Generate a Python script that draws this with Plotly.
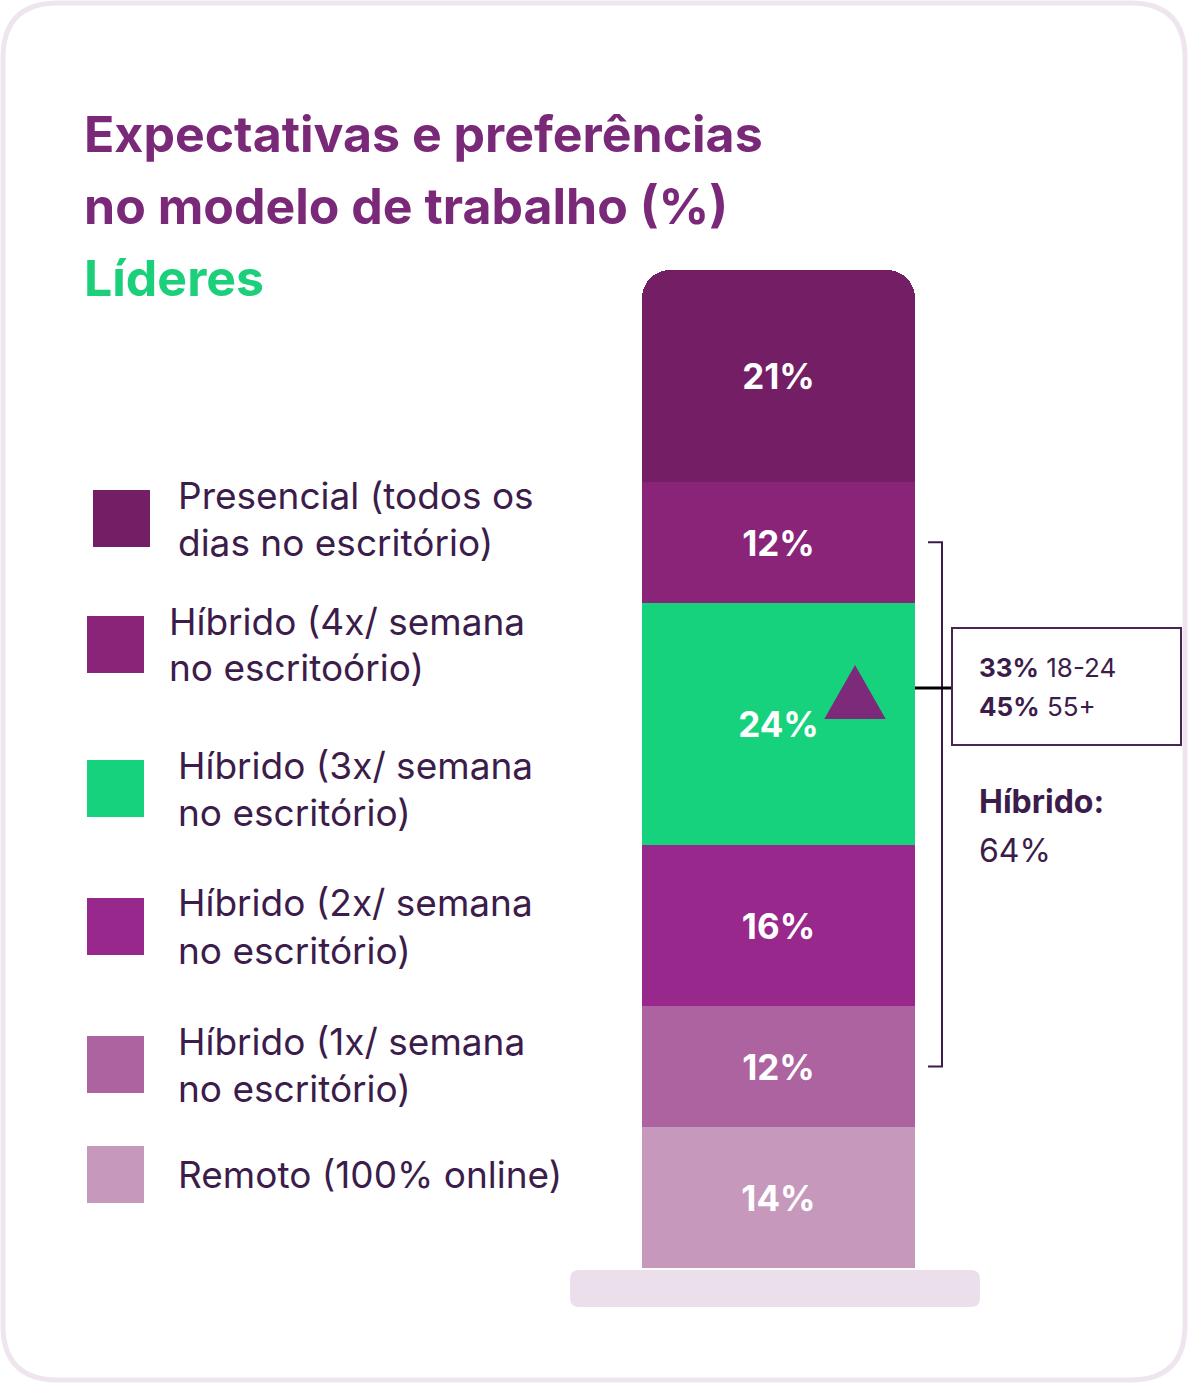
import plotly.graph_objects as go

W, H = 1188, 1383

# dados (de baixo para cima na pilha)
categorias = ['Remoto', 'Híbrido 1x', 'Híbrido 2x', 'Híbrido 3x', 'Híbrido 4x', 'Presencial']
valores = [14, 12, 16, 24, 12, 21]
cores = ['#C699BC', '#AC639F', '#98288B', '#17D27D', '#8A2478', '#741E66']

# legenda (de cima para baixo)
legenda_linhas = [
    ['Presencial (todos os', 'dias no escritório)'],
    ['Híbrido (4x/ semana', 'no escritoório)'],
    ['Híbrido (3x/ semana', 'no escritório)'],
    ['Híbrido (2x/ semana', 'no escritório)'],
    ['Híbrido (1x/ semana', 'no escritório)'],
    ['Remoto (100% online)'],
]

faixa_pct = ['33%', '45%']
faixa_idade = ['18-24', '55+']
hibrido_total = '64%'

titulo = ['Expectativas e preferências', 'no modelo de trabalho (%)']
subtitulo = 'Líderes'

FONTE = 'Inter, Lato, sans-serif'
TXT = '#3B1C4A'


def px(x):
    return x / W


def py(y):
    return 1 - y / H


def rounded_path(x0, y0, x1, y1, r):
    # retangulo arredondado em coordenadas de pixel -> papel
    pts = [
        f'M {px(x0 + r)},{py(y0)}',
        f'L {px(x1 - r)},{py(y0)}',
        f'Q {px(x1)},{py(y0)} {px(x1)},{py(y0 + r)}',
        f'L {px(x1)},{py(y1 - r)}',
        f'Q {px(x1)},{py(y1)} {px(x1 - r)},{py(y1)}',
        f'L {px(x0 + r)},{py(y1)}',
        f'Q {px(x0)},{py(y1)} {px(x0)},{py(y1 - r)}',
        f'L {px(x0)},{py(y0 + r)}',
        f'Q {px(x0)},{py(y0)} {px(x0 + r)},{py(y0)}',
        'Z',
    ]
    return ' '.join(pts)


fig = go.Figure()

for cat, v, c in zip(categorias, valores, cores):
    fig.add_trace(go.Bar(
        x=[0], y=[v], name=cat,
        marker=dict(color=c, line=dict(width=0)),
        text=[f'{v}%'], textposition='inside', insidetextanchor='middle',
        textangle=0,
        textfont=dict(color='white', size=35, family=FONTE, weight='bold'),
        hoverinfo='skip', showlegend=False,
    ))

total = sum(valores)
base = [sum(valores[:i]) for i in range(len(valores))]
meio_1x = base[1] + valores[1] / 2
meio_4x = base[4] + valores[4] / 2

shapes = []
# cartao
shapes.append(dict(type='path', xref='paper', yref='paper', layer='below',
                   path=rounded_path(3, 3, W - 3, H - 3, 55),
                   line=dict(color='#EEE5EF', width=5), fillcolor='white'))
# base do grafico
shapes.append(dict(type='path', xref='paper', yref='paper', layer='below',
                   path=rounded_path(570, 1270, 980, 1307, 9),
                   line=dict(width=0), fillcolor='#EBDFEC'))

# quadrados da legenda
quadrados = [(93, 490), (87, 616), (87, 760), (87, 898), (87, 1036), (87, 1146)]
for (qx, qy), c in zip(quadrados, cores[::-1]):
    shapes.append(dict(type='rect', xref='paper', yref='paper',
                       x0=px(qx), x1=px(qx + 57), y0=py(qy), y1=py(qy + 57),
                       fillcolor=c, line=dict(width=0)))

# chave do hibrido
shapes.append(dict(type='path', xref='paper', yref='y',
                   path=f'M {px(928)},{meio_4x} L {px(942)},{meio_4x} L {px(942)},{meio_1x} L {px(928)},{meio_1x}',
                   line=dict(color=TXT, width=2)))
# ligacao para a caixa
shapes.append(dict(type='line', xref='paper', yref='paper',
                   x0=px(915), x1=px(952), y0=py(688), y1=py(688),
                   line=dict(color='black', width=3)))
# caixa
shapes.append(dict(type='rect', xref='paper', yref='paper',
                   x0=px(952), x1=px(1181), y0=py(628), y1=py(745),
                   line=dict(color='#4A2552', width=2), fillcolor='white'))
# triangulo
shapes.append(dict(type='path', xref='paper', yref='paper',
                   path=f'M {px(855)},{py(667)} L {px(884)},{py(718)} L {px(826)},{py(718)} Z',
                   fillcolor='#7E2A7A', line=dict(color='#7E2A7A', width=2)))

annotations = []


def ann(x, y, text, size, color=TXT, weight='normal'):
    annotations.append(dict(x=px(x), y=py(y), xref='paper', yref='paper',
                            text=text, showarrow=False, xanchor='left', yanchor='middle',
                            font=dict(family=FONTE, size=size, color=color, weight=weight)))


ann(82, 134, titulo[0], 50, '#7A2878', 'bold')
ann(82, 206, titulo[1], 50, '#7A2878', 'bold')
ann(82, 278, subtitulo, 50, '#1CCF7A', 'bold')

leg_pos = [(176, 495), (167, 621), (176, 765), (176, 903), (176, 1041), (176, 1174)]
for (lx, ly), linhas in zip(leg_pos, legenda_linhas):
    for i, t in enumerate(linhas):
        ann(lx, ly + i * 47, t, 37)

for i, (p, idade) in enumerate(zip(faixa_pct, faixa_idade)):
    ann(977, 667 + i * 39, f'<b>{p}</b> {idade}', 26)

ann(977, 802, 'Híbrido:', 32, TXT, 'bold')
ann(977, 850, hibrido_total, 32)

fig.update_layout(
    width=W, height=H,
    margin=dict(l=0, r=0, t=0, b=0),
    paper_bgcolor='white', plot_bgcolor='rgba(0,0,0,0)',
    barmode='stack', bargap=0, barcornerradius=28,
    xaxis=dict(domain=[px(642), px(915)], range=[-0.5, 0.5], visible=False, fixedrange=True),
    yaxis=dict(domain=[py(1268), py(270)], range=[0, total], visible=False, fixedrange=True),
    shapes=shapes, annotations=annotations,
    showlegend=False,
)

fig.write_html('out.html', config={'displayModeBar': False},
               post_script="document.body.style.margin='0';document.body.style.overflow='hidden';")
